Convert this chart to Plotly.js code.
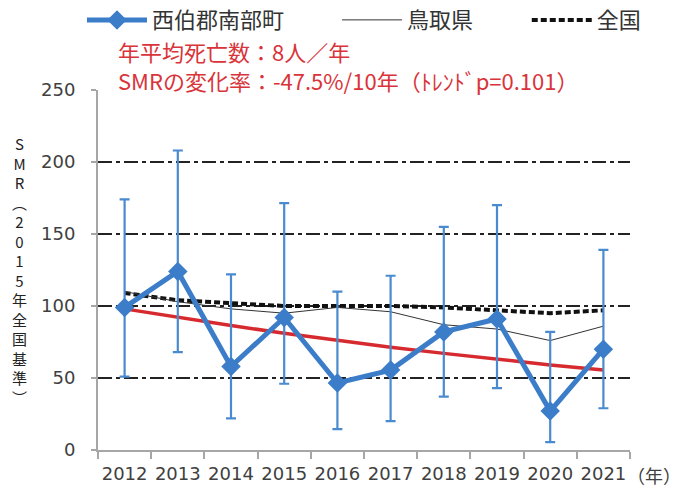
<!DOCTYPE html>
<html>
<head>
<meta charset="utf-8">
<script src="https://cdn.plot.ly/plotly-3.0.1.min.js"></script>
<style>html,body{margin:0;padding:0;background:#fff;}#chart{width:685px;height:490px;}</style>
</head>
<body>
<div id="chart"></div>
<script>
const years = ['2012','2013','2014','2015','2016','2017','2018','2019','2020','2021'];
const townSMR = [99, 124, 58, 92, 46.5, 55.5, 82, 91, 27, 70];
const townUpper = [174, 208, 122, 171.5, 110, 121, 155, 170, 82, 139];
const townLower = [51, 68, 22, 46, 14.5, 20, 37, 43, 5.5, 29];
const tottoriSMR = [110, 103, 98, 95, 99, 96, 87, 84, 76, 86];
const nationalSMR = [109, 104, 102, 100, 100, 100, 99, 97, 95, 97];
const trendSMR = [98, 92, 86.4, 81.1, 76.1, 71.4, 67.1, 63, 59.1, 55.5];
const seriesNames = ['西伯郡南部町', '鳥取県', '全国'];

const jp = '"Noto Sans CJK JP", sans-serif';
const num = '"DejaVu Sans", sans-serif';

const traces = [
  {x: years, y: trendSMR, type: 'scatter', mode: 'lines', showlegend: false,
   line: {color: '#d62a2e', width: 3.5}, hoverinfo: 'skip'},
  {x: years, y: nationalSMR, type: 'scatter', mode: 'lines', name: seriesNames[2], legend: 'legend3',
   line: {color: '#111', width: 4, dash: '6px,3px'}},
  {x: years, y: tottoriSMR, type: 'scatter', mode: 'lines', name: seriesNames[1], legend: 'legend2',
   line: {color: '#333', width: 1}},
  {x: years, y: townSMR, type: 'scatter', mode: 'lines+markers', name: seriesNames[0], legend: 'legend',
   line: {color: '#3b7dc8', width: 5},
   marker: {symbol: 'diamond', size: 15, color: '#3b7dc8'},
   error_y: {type: 'data', symmetric: false,
     array: townUpper.map((u, i) => u - townSMR[i]),
     arrayminus: townSMR.map((v, i) => v - townLower[i]),
     color: '#4a8bd0', thickness: 2.2, width: 5}}
];

const yTitleChars = ['S','M','R','︵','2','0','1','5','年','全','国','基','準','︶'];

function legendAt(x) {
  return {orientation: 'h', xref: 'container', yref: 'container', x: x, y: 0.959, yanchor: 'middle',
    font: {family: jp, size: 22, color: '#333'}, itemwidth: 60, bgcolor: 'rgba(0,0,0,0)'};
}

const layout = {
  width: 685, height: 490,
  margin: {l: 98, r: 55, t: 90, b: 40},
  paper_bgcolor: '#fff', plot_bgcolor: '#fff',
  showlegend: true,
  legend: legendAt(0.1197),
  legend2: legendAt(0.492),
  legend3: legendAt(0.769),
  xaxis: {type: 'category', range: [-0.5, 9.5], showline: true, linecolor: '#a6a6a6', linewidth: 2,
    ticks: 'outside', tickson: 'boundaries', ticklen: 7, tickcolor: '#a6a6a6', tickwidth: 2,
    ticklabelstandoff: 6, tickangle: 0,
    showgrid: false, tickfont: {family: num, size: 18, color: '#404040'}, fixedrange: true},
  yaxis: {range: [0, 250], tick0: 0, dtick: 50, showline: true, linecolor: '#a6a6a6', linewidth: 2,
    ticks: 'outside', ticklen: 5, tickcolor: '#a6a6a6', tickwidth: 2, ticklabelstandoff: 12,
    showgrid: true, gridcolor: '#222', gridwidth: 1.5, griddash: '14px,4px,4px,4px',
    zeroline: false, tickfont: {family: num, size: 18, color: '#404040'}, fixedrange: true},
  annotations: [
    {xref: 'paper', yref: 'paper', x: 0.034, y: 1.069, xanchor: 'left', yanchor: 'middle', showarrow: false, align: 'left',
     text: '年平均死亡数：8人／年<br>SMRの変化率：-47.5%/10年（ﾄﾚﾝﾄﾞp=0.101）', font: {family: jp, size: 22, color: '#d9343a'}},
    {xref: 'paper', yref: 'paper', x: 1.045, y: -0.069, xanchor: 'center', yanchor: 'middle', showarrow: false,
     text: '（年）', font: {family: jp, size: 18, color: '#404040'}},
    {xref: 'paper', yref: 'paper', x: -0.147, y: 0.5, xanchor: 'center', yanchor: 'middle', showarrow: false,
     text: yTitleChars.join('<br>'), font: {family: jp, size: 15, color: '#222'}}
  ]
};

Plotly.newPlot('chart', traces, layout, {displayModeBar: false, staticPlot: true});
</script>
</body>
</html>
